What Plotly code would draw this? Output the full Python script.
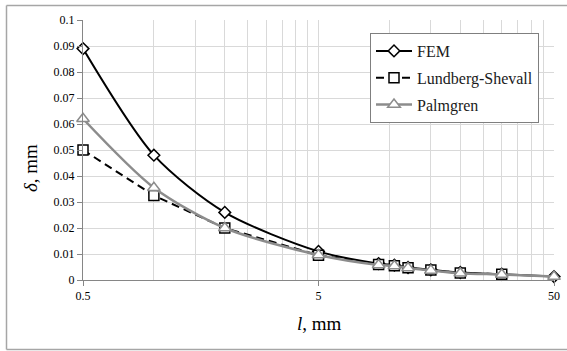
import plotly.graph_objects as go
import math

# ---- data ----
x_fem = [0.5, 1, 2, 5, 9, 10.5, 12, 15, 20, 30, 50]
y_fem = [0.089, 0.048, 0.026, 0.011, 0.0063, 0.0057, 0.0048, 0.0039, 0.0029, 0.0022, 0.0013]

x_ls = [0.5, 1, 2, 5, 9, 10.5, 12, 15, 20, 30]
y_ls = [0.050, 0.0325, 0.020, 0.0095, 0.0060, 0.0055, 0.0047, 0.0038, 0.0027, 0.0022]

x_pg = [0.5, 1, 2, 5, 9, 10.5, 12, 15, 20, 30, 50]
y_pg = [0.062, 0.0355, 0.020, 0.0096, 0.0058, 0.0054, 0.0046, 0.0037, 0.0026, 0.0021, 0.0013]

x_ticks = [0.5, 5, 50]
x_tick_text = ["0.5", "5", "50"]
x_minor = [1, 1.5, 2, 2.5, 3, 3.5, 4, 4.5, 10, 15, 20, 25, 30, 35, 40, 45]
y_ticks = [0, 0.01, 0.02, 0.03, 0.04, 0.05, 0.06, 0.07, 0.08, 0.09, 0.1]
y_tick_text = ["0", "0.01", "0.02", "0.03", "0.04", "0.05", "0.06", "0.07", "0.08", "0.09", "0.1"]

FONT = "Liberation Serif, Times New Roman, serif"
GRAY = "#8c8c8c"
GRID = "#d9d9d9"

fig = go.Figure()
fig.add_trace(go.Scatter(
    x=x_fem, y=y_fem, name="FEM", mode="lines+markers", legendgroup="a", cliponaxis=False,
    line=dict(color="black", width=2, shape="spline", smoothing=0.8),
    marker=dict(symbol="diamond", size=9, color="white", line=dict(color="black", width=1.5)),
))
fig.add_trace(go.Scatter(
    x=x_ls, y=y_ls, name="Lundberg-Shevall", mode="lines+markers", legendgroup="b", cliponaxis=False,
    line=dict(color="black", width=2, dash="8px,5px"),
    marker=dict(symbol="square", size=10, color="white", line=dict(color="black", width=1.5)),
))
fig.add_trace(go.Scatter(
    x=x_pg, y=y_pg, name="Palmgren", mode="lines+markers", legendgroup="c", cliponaxis=False,
    line=dict(color=GRAY, width=2.5, shape="spline", smoothing=0.8),
    marker=dict(symbol="triangle-up", size=11, color="white", line=dict(color=GRAY, width=1.5)),
))

W, H = 567, 351
L, R, T, B = 83, 554, 20, 280

def px2paper_x(px):
    return (px - L) / (R - L)

def px2paper_y(py):
    return (B - py) / (B - T)

border = dict(color="#a6a6a6", width=1.5)
bx0, bx1 = px2paper_x(6.5), px2paper_x(580)
by0, by1 = px2paper_y(349.5), px2paper_y(5.5)

fig.update_layout(
    width=W, height=H,
    margin=dict(l=L, r=W - R, t=T, b=H - B, autoexpand=False),
    paper_bgcolor="white", plot_bgcolor="white",
    font=dict(family=FONT, size=12, color="black"),
    showlegend=True,
    legend=dict(
        x=px2paper_x(370), y=px2paper_y(33), xanchor="left", yanchor="top",
        bgcolor="white", bordercolor="#7f7f7f", borderwidth=1,
        font=dict(family=FONT, size=16, color="#1a1a1a"),
        traceorder="grouped", tracegroupgap=3, itemwidth=36,
    ),
    xaxis=dict(
        type="log", range=[math.log10(0.5), math.log10(50)], automargin=False,
        tickmode="array", tickvals=x_ticks, ticktext=x_tick_text,
        showgrid=True, gridcolor=GRID, gridwidth=1,
        minor=dict(tickmode="array", tickvals=x_minor, showgrid=True, gridcolor=GRID, gridwidth=1, ticks=""),
        showline=True, linecolor="#868686", linewidth=1,
        ticks="outside", ticklen=5, tickcolor="#868686",
        tickfont=dict(family=FONT, size=12),
        zeroline=False,
    ),
    yaxis=dict(
        range=[0, 0.1], automargin=False,
        tickmode="array", tickvals=y_ticks, ticktext=y_tick_text,
        showgrid=True, gridcolor=GRID, gridwidth=1,
        showline=True, linecolor="#868686", linewidth=1,
        ticks="outside", ticklen=5, tickcolor="#868686",
        tickfont=dict(family=FONT, size=12),
        zeroline=False,
    ),
    annotations=[
        dict(text="<i>l</i>, mm", xref="paper", yref="paper",
             x=px2paper_x(319), y=px2paper_y(323), showarrow=False,
             xanchor="center", yanchor="middle", font=dict(family=FONT, size=19)),
        dict(text="<i>δ</i>, mm", xref="paper", yref="paper",
             x=px2paper_x(30), y=px2paper_y(168), showarrow=False, textangle=-90,
             xanchor="center", yanchor="middle", font=dict(family=FONT, size=19)),
    ],
    shapes=[
        dict(type="line", xref="paper", yref="paper", x0=bx0, x1=bx1, y0=by1, y1=by1, line=border, layer="below"),
        dict(type="line", xref="paper", yref="paper", x0=bx0, x1=bx1, y0=by0, y1=by0, line=border, layer="below"),
        dict(type="line", xref="paper", yref="paper", x0=bx0, x1=bx0, y0=by0, y1=by1, line=border, layer="below"),
    ],
)

fig.write_html(
    "out.html",
    config={"displayModeBar": False},
    post_script="document.body.style.margin='0';document.body.style.overflow='hidden';",
)
